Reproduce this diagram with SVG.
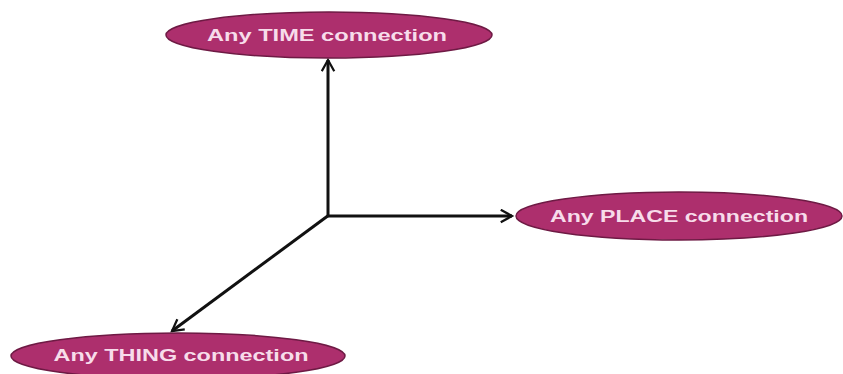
<svg xmlns="http://www.w3.org/2000/svg" width="843" height="374" viewBox="0 0 843 374">
  <style>
    .node ellipse { fill: #ad2f6d; stroke: #6e1a44; stroke-width: 1.5; }
    .node text { font-family: "Liberation Sans", Arial, sans-serif; font-weight: bold; font-size: 16px; fill: #f7dcea; text-anchor: middle; }
    .edge { stroke: #111; stroke-width: 3; fill: none; }
  </style>
  <defs>
    <marker id="arrow" viewBox="0 0 12 12" refX="10" refY="6" markerWidth="5" markerHeight="5" markerUnits="strokeWidth" orient="auto">
      <path d="M1,1 L10,6 L1,11" fill="none" stroke="#111" stroke-width="1.8"/>
    </marker>
  </defs>
  <rect width="843" height="374" fill="#ffffff"/>
  <g id="connectors">
    <line class="edge" x1="328" y1="216" x2="328" y2="60" marker-end="url(#arrow)"/>
    <line class="edge" x1="327" y1="216" x2="512" y2="216" marker-end="url(#arrow)"/>
    <line class="edge" x1="329" y1="215" x2="172" y2="331" marker-end="url(#arrow)"/>
  </g>
  <g id="time" class="node">
    <ellipse cx="329" cy="35" rx="163" ry="23"/>
    <text x="327" y="41" textLength="240" lengthAdjust="spacingAndGlyphs">Any TIME connection</text>
  </g>
  <g id="place" class="node">
    <ellipse cx="679" cy="216" rx="163" ry="24"/>
    <text x="679" y="222" textLength="258" lengthAdjust="spacingAndGlyphs">Any PLACE connection</text>
  </g>
  <g id="thing" class="node">
    <ellipse cx="178" cy="356" rx="167" ry="23"/>
    <text x="181" y="361" textLength="255" lengthAdjust="spacingAndGlyphs">Any THING connection</text>
  </g>
</svg>
